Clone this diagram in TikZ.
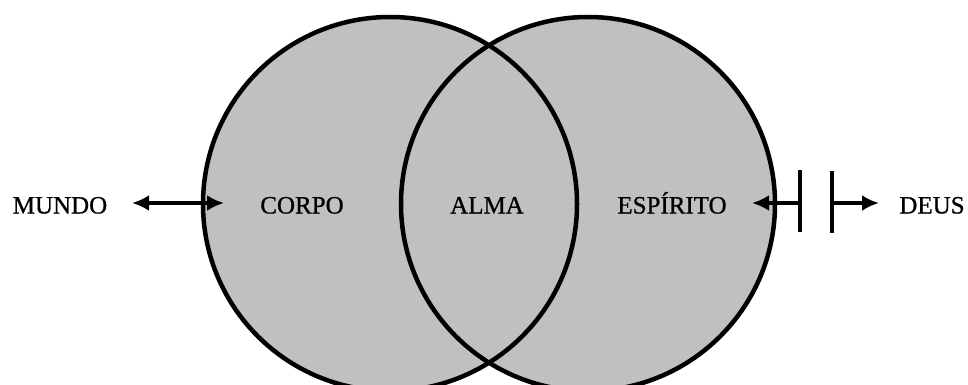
\documentclass[tikz,border=0pt]{standalone}
\usepackage{fontspec}
\setmainfont{Liberation Serif}
\newfontfamily\lblfont{Liberation Serif}[FakeBold=0.8]
\usetikzlibrary{arrows.meta}
\definecolor{circgray}{RGB}{192,192,192}
\begin{document}
\begin{tikzpicture}[x=1pt,y=-1pt,
  circ/.style={circle,inner sep=0pt,minimum size=374pt},
  lbl/.style={inner sep=0pt,font=\lblfont\fontsize{25}{29}\selectfont,anchor=base},
  thick arrow/.style={line width=4pt,-{Latex[length=17pt,width=16pt]}},
  bar/.style={line width=4pt}]
\useasboundingbox (0,0) rectangle (968,385);
\node[circ,fill=circgray] (L) at (390,204) {};
\node[circ,fill=circgray] (R) at (588,204) {};
\node[circ,draw,line width=4.5pt] at (L) {};
\node[circ,draw,line width=4.5pt] at (R) {};
\node[lbl] (mundo) at (60,213.5) {MUNDO};
\node[lbl] (corpo) at (302,213.5) {CORPO};
\node[lbl] (alma) at (487,213.5) {ALMA};
\node[lbl] (esp) at (672,213.5) {ESPÍRITO};
\node[lbl] (deus) at (932,213.5) {DEUS};
\coordinate (m1) at (132,203);
\coordinate (m2) at (224,203);
\coordinate (mm) at (178,203);
\draw[thick arrow] (mm) -- (m1);
\draw[thick arrow] (mm) -- (m2);
\coordinate (e1) at (752,203);
\coordinate (b1) at (800,203);
\coordinate (b1t) at (800,170);
\coordinate (b1b) at (800,232);
\coordinate (b2) at (832,203);
\coordinate (b2t) at (832,171);
\coordinate (b2b) at (832,233);
\coordinate (d1) at (879,203);
\draw[thick arrow] (b1) -- (e1);
\draw[bar] (b1t) -- (b1b);
\draw[bar] (b2t) -- (b2b);
\draw[thick arrow] (b2) -- (d1);
\end{tikzpicture}
\end{document}
